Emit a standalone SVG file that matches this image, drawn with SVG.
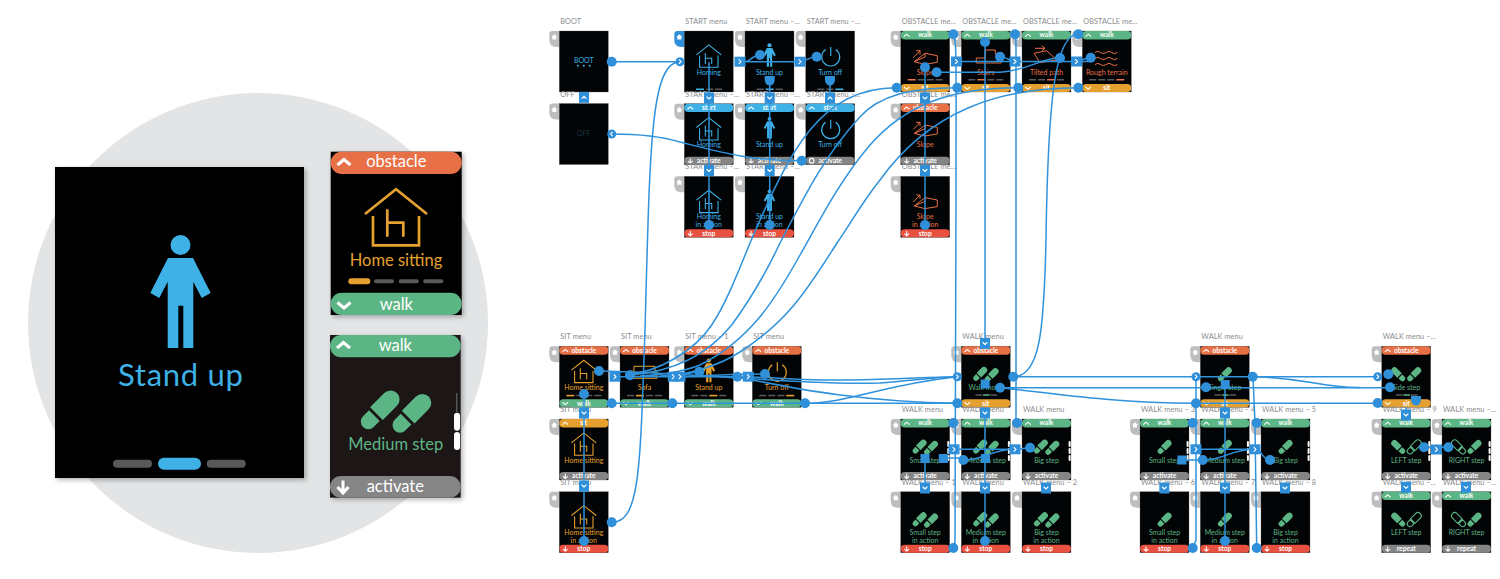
<svg xmlns="http://www.w3.org/2000/svg" width="1500" height="579" viewBox="0 0 1500 579">
<style>
text{font-family:"Lato","Noto Sans","Liberation Sans",sans-serif}
.cb{color:#3eb1e6}.co{color:#e5a02f}.cg{color:#5cb585}.cr{color:#e87046}
.s{fill:#030405;stroke:#55585a;stroke-width:.3}
.l{font-size:7.3px;fill:#8a8c8e;letter-spacing:.1px}
.m{font-size:7px;fill:currentColor;text-anchor:middle}
.bt{font-size:6.6px;font-weight:700;fill:#fff;text-anchor:middle}
.ic{fill:none;stroke:currentColor}
.pf{fill:currentColor}
.gp{fill:#58595b}
.ff{fill:currentColor}
.fo{fill:none;stroke:currentColor;stroke-width:3}
.w{fill:none;stroke:#fff;stroke-width:1.1;stroke-linecap:round;stroke-linejoin:round}
.B{fill:#fff;font-size:16.5px;text-anchor:middle}
#connectors path{fill:none;stroke:#2f92dc;stroke-width:1.5}
.k{fill:#2f8fd8}
</style>
<defs>
<filter id="sh" x="-10%" y="-10%" width="125%" height="125%"><feDropShadow dx="2" dy="2" stdDeviation="2.5" flood-color="#000" flood-opacity=".3"/></filter>
<g id="tab"><path d="M0 0H-7Q-10 0-10 3V9Q-10 16-3 16H0Z" fill="#bdbebf"/><path d="M-5 3.2L-8 6H-7V8.5H-3V6H-2Z" fill="#fff"/></g>
<g id="tabb"><path d="M0 0H-7Q-10 0-10 3V9Q-10 16-3 16H0Z" fill="#2f8fd8"/><path d="M-5 3.2L-8 6H-7V8.5H-3V6H-2Z" fill="#fff"/></g>
<path id="cu" class="w" d="M3.5 5.3L6 3.2L8.5 5.3"/>
<path id="cd" class="w" d="M3.5 3.2L6 5.3L8.5 3.2"/>
<path id="ad" class="w" d="M6 2V6.3M4 4.6L6 6.5L8 4.6"/>
<g id="tg"><rect width="49" height="8.4" rx="4" fill="#5cb585"/><use href="#cu"/></g>
<g id="to"><rect width="49" height="8.4" rx="4" fill="#e87046"/><use href="#cu"/></g>
<g id="ty"><rect width="49" height="8.4" rx="4" fill="#e5a02f"/><use href="#cu"/></g>
<g id="tc"><rect width="49" height="8.4" rx="4" fill="#3eb1e6"/><use href="#cu"/></g>
<g id="bg"><rect y="53" width="49" height="8" rx="4" fill="#5cb585"/><use href="#cd" y="53"/></g>
<g id="by"><rect y="53" width="49" height="8" rx="4" fill="#e5a02f"/><use href="#cd" y="53"/></g>
<g id="ba"><rect y="53" width="49" height="8" rx="4" fill="#858585"/><use href="#ad" y="53"/></g>
<g id="br"><rect y="53" width="49" height="8" rx="4" fill="#e8503f"/><use href="#ad" y="53"/></g>
<g id="bp"><rect y="53" width="49" height="8" rx="4" fill="#858585"/><circle cx="6" cy="57" r="2.3" class="w"/></g>
<g id="house" fill="none" stroke="currentColor" stroke-width="2.7"><path d="M-31-3L0-27.7L31-3M-23-1V28.3H23V-1M-8.7-7.7V19.7M-8.7 5.7H7.3V19.7"/></g>
<g id="person" fill="currentColor"><circle cy="-46.5" r="10"/><path d="M-12.5-33.5H12.5L30.2 1.5L21.2 6.5L12.8-9.8V56.5H2.8V14.2H-2.2V56.5H-12.8V-9.8L-21.2 6.5L-30.2 1.5Z"/></g>
<path id="pw" class="ic" stroke-width="1.2" d="M-5-7.5A9 9 0 1 0 5-7.5M0-10V-1"/>
<path id="foot" d="M-9-15A9 9 0 0 1 9-15V5H-9ZM-7.5 8H7.5V16.500A7.500 7.500 0 0 1-7.500 16.500Z"/>
<g id="feet" class="ff"><use href="#foot" transform="translate(-15.7 -1) rotate(45)"/><use href="#foot" transform="translate(16 2.5) rotate(45)"/></g>
<g id="foot1" class="ff"><use href="#foot" transform="rotate(45)"/></g>
<g id="fside" class="ff"><use href="#foot" transform="translate(-22 0) rotate(-45)"/><use href="#foot" transform="translate(22 0) rotate(45)"/></g>
<g id="fl"><use class="ff" href="#foot" transform="translate(-22 0) rotate(-45)"/><use class="fo" href="#foot" transform="translate(22 0) rotate(45)"/></g>
<g id="fr"><use class="fo" href="#foot" transform="translate(-22 0) rotate(-45)"/><use class="ff" href="#foot" transform="translate(22 0) rotate(45)"/></g>
<path id="slope" class="ic" d="M13.6 30.7L24.3 22.3L36.6 24.7V31.3L24.3 33.3ZM24.3 22.3V26L13.6 30.7M12.6 26.7L19.3 19.7M15.5 19.7H19.3V23.5"/>
<path id="stairs" class="ic" d="M15 32V27H24V19H34V23H40V32Z"/>
<path id="tilt" class="ic" d="M12 22.3L24.7 19.7L34.7 29L18 31.7ZM13 17.3H23M20 15L23 17.3L20 19.6"/>
<path id="wave" class="ic" d="M12.7 21.5q2.8-2.4 5.6 0t5.6 0t5.6 0t5.6 0M12.7 27.5q2.8-2.4 5.6 0t5.6 0t5.6 0t5.6 0M12.7 33.5q2.8-2.4 5.6 0t5.6 0t5.6 0t5.6 0"/>
<path id="sofa" class="ic" d="M14 20H35V30H14ZM12 24V32H37V24M14 26H35"/>
<g id="scr"><rect x="46.6" y="22" width="2" height="6" rx="1" fill="#fff"/><rect x="46.6" y="29" width="2" height="6" rx="1" fill="#fff"/><rect x="46.6" y="36" width="2" height="6" rx="1" fill="#fff"/></g>
<g id="p3"><rect x="14" y="48" width="7" height="1.5" rx=".7" class="gp"/><rect x="21.5" y="48" width="7" height="1.5" rx=".7" class="pf"/><rect x="29" y="48" width="7" height="1.5" rx=".7" class="gp"/></g>
<circle id="d" r="5" class="k"/>
<g id="sr"><rect x="-5.5" y="-5" width="11" height="10" class="k"/><path class="w" d="M-1-2L1 0L-1 2"/></g>
<g id="sl"><rect x="-5.5" y="-5" width="11" height="10" class="k"/><path class="w" d="M1-2L-1 0L1 2"/></g>
<g id="sd"><rect x="-5" y="-5.5" width="10" height="11" class="k"/><path class="w" d="M-2-1L0 1L2-1"/></g>
<g id="su"><rect x="-5" y="-5.5" width="10" height="11" class="k"/><path class="w" d="M-2 1L0-1L2 1"/></g>
<g id="ir"><circle r="4.500" class="k"/><path class="w" d="M-.7-1.8L1 0L-.7 1.8"/></g>
<g id="il"><circle r="4.500" class="k"/><path class="w" d="M.7-1.8L-1 0L.7 1.8"/></g>
<path id="sh1" class="k" d="M-5-4H5V0A5 5.500 0 0 1-5 0Z"/>
</defs>
<rect width="1500" height="579" fill="#fff"/>

<g id="detail">
<circle cx="258" cy="323" r="230" fill="#e2e4e5"/>
<g id="big-screen" class="cb">
<rect x="55" y="167" width="249" height="311" fill="#030405" filter="url(#sh)"/>
<use href="#person" transform="translate(180.5 291.5)"/>
<text x="180.5" y="386" font-size="31" fill="#3eb1e6" text-anchor="middle" textLength="125">Stand up</text>
<rect x="113" y="459.700" width="39" height="8" rx="4" fill="#58595b"/><rect x="158" y="457.700" width="43" height="12" rx="6" fill="#3eb1e6"/><rect x="206.700" y="459.700" width="39" height="8" rx="4" fill="#58595b"/>
</g>
<g id="card-home" class="co">
<rect x="330.700" y="151.700" width="131" height="163.300" fill="#030405" filter="url(#sh)"/>
<rect x="330.700" y="151.700" width="131" height="22.300" rx="11" fill="#e87046"/>
<path d="M337.500 165L344 159.500L350.500 165" fill="none" stroke="#fff" stroke-width="3"/>
<text class="B" x="396.300" y="167">obstacle</text>
<use href="#house" transform="translate(396 217)"/>
<text x="396" y="266" font-size="16.500" fill="#e5a02f" text-anchor="middle">Home sitting</text>
<rect x="348.300" y="278.300" width="22" height="6" rx="3" fill="#e5a02f"/><rect x="374" y="279.300" width="20" height="4" rx="2" fill="#58595b"/><rect x="398.700" y="279.300" width="20" height="4" rx="2" fill="#58595b"/><rect x="423.300" y="279.300" width="20" height="4" rx="2" fill="#58595b"/>
<rect x="330.700" y="292.700" width="131" height="22.300" rx="11" fill="#5cb585"/>
<path d="M337.500 302.500L344 308L350.500 302.500" fill="none" stroke="#fff" stroke-width="3"/>
<text class="B" x="396.300" y="310">walk</text>
</g>
<g id="card-step" class="cg">
<rect x="330" y="335" width="130.700" height="162.700" fill="#1a1718" filter="url(#sh)"/>
<rect x="330" y="335" width="130.700" height="22.300" rx="11" fill="#5cb585"/>
<path d="M337 348L343.500 342.500L350 348" fill="none" stroke="#fff" stroke-width="3"/>
<text class="B" x="395.300" y="351">walk</text>
<use href="#feet" transform="translate(395.700 411)"/>
<text x="395.700" y="450" font-size="16.500" fill="#5cb585" text-anchor="middle">Medium step</text>
<rect x="456" y="393" width="1.400" height="19" fill="#58595b"/><rect x="454" y="412.700" width="6" height="18" rx="3" fill="#fff"/><rect x="454" y="432" width="6" height="18" rx="3" fill="#fff"/>
<rect x="330" y="476" width="130.700" height="21.700" rx="10.800" fill="#858585"/>
<path d="M343 480.500V492M337.500 487L343 493L348.500 487" fill="none" stroke="#fff" stroke-width="3"/>
<text class="B" x="395.300" y="492">activate</text>
</g>
</g>

<g id="nodes">
<g id="boot" class="cb" transform="translate(559.300 31)"><use href="#tab"/><text class="l" x="1" y="-7">BOOT</text><rect class="s" width="49" height="61"/><text class="m" x="24.500" y="31.500">BOOT</text><circle cx="18.500" cy="34.700" r="1" class="pf"/><circle cx="24.500" cy="34.700" r="1" class="pf"/><circle cx="30.500" cy="34.700" r="1" class="pf"/></g>
<g id="off" class="cb" transform="translate(559.300 103.500)"><use href="#tab"/><text class="l" x="1" y="-7">OFF</text><rect class="s" width="49" height="61"/><text class="m" x="24.500" y="32" style="fill:#17364b">OFF</text></g>

<g id="start-1" class="cb" transform="translate(684.300 31)"><use href="#tabb"/><text class="l" x="1" y="-7">START menu</text><rect class="s" width="49" height="61"/><use href="#house" transform="translate(24.500 25) scale(.4)"/><text class="m" x="24.500" y="44">Homing</text><rect x="11.700" y="57.500" width="8" height="1.600" class="pf"/><rect x="22" y="57.500" width="7" height="1.600" class="gp"/><rect x="30.700" y="57.500" width="7" height="1.600" class="gp"/></g>
<g id="start-2" class="cb" transform="translate(745 31)"><use href="#tab"/><text class="l" x="1" y="-7">START menu –…</text><rect class="s" width="49" height="61"/><use href="#person" transform="translate(24.500 24) scale(.21)"/><text class="m" x="24.500" y="44">Stand up</text><rect x="11.700" y="57.500" width="7" height="1.600" class="gp"/><rect x="20.700" y="57.500" width="8" height="1.600" class="pf"/><rect x="30.700" y="57.500" width="7" height="1.600" class="gp"/></g>
<g id="start-3" class="cb" transform="translate(805.700 31)"><use href="#tab"/><text class="l" x="1" y="-7">START menu –…</text><rect class="s" width="49" height="61"/><use href="#pw" transform="translate(25 26)"/><text class="m" x="24.500" y="44">Turn off</text><rect x="11.700" y="57.500" width="7" height="1.600" class="gp"/><rect x="20.700" y="57.500" width="7" height="1.600" class="gp"/><rect x="29.700" y="57.500" width="8" height="1.600" class="pf"/></g>
<g id="start-4" class="cb" transform="translate(684.300 103.700)"><use href="#tab"/><text class="l" x="1" y="-7">START menu –…</text><rect class="s" width="49" height="61"/><use href="#tc"/><text class="bt" x="24.500" y="6.300">start</text><use href="#house" transform="translate(24.500 25) scale(.4)"/><text class="m" x="24.500" y="43.500">Homing</text><use href="#ba"/><text class="bt" x="24.500" y="59.400">activate</text></g>
<g id="start-5" class="cb" transform="translate(745 103.700)"><use href="#tab"/><text class="l" x="1" y="-7">START menu –…</text><rect class="s" width="49" height="61"/><use href="#tc"/><text class="bt" x="24.500" y="6.300">start</text><use href="#person" transform="translate(24.500 24) scale(.19)"/><text class="m" x="24.500" y="43.500">Stand up</text><use href="#ba"/><text class="bt" x="24.500" y="59.400">activate</text></g>
<g id="start-6" class="cb" transform="translate(805.700 103.700)"><use href="#tab"/><text class="l" x="1" y="-7">START menu –…</text><rect class="s" width="49" height="61"/><use href="#tc"/><text class="bt" x="24.500" y="6.300">start</text><use href="#pw" transform="translate(25 26)"/><text class="m" x="24.500" y="43.500">Turn off</text><use href="#bp"/><text class="bt" x="24.500" y="59.400">activate</text></g>
<g id="start-7" class="cb" transform="translate(684.300 176.300)"><use href="#tab"/><text class="l" x="1" y="-7">START menu –…</text><rect class="s" width="49" height="61"/><use href="#house" transform="translate(24.500 25) scale(.4)"/><text class="m" x="24.500" y="43">Homing</text><text class="m" x="24.500" y="51">in action</text><use href="#br"/><text class="bt" x="24.500" y="59.400">stop</text></g>
<g id="start-8" class="cb" transform="translate(745 176.300)"><use href="#tab"/><text class="l" x="1" y="-7">START menu –…</text><rect class="s" width="49" height="61"/><use href="#person" transform="translate(24.500 24) scale(.19)"/><text class="m" x="24.500" y="43">Stand up</text><text class="m" x="24.500" y="51">in action</text><use href="#br"/><text class="bt" x="24.500" y="59.400">stop</text></g>

<g id="obst-1" class="cr" transform="translate(900.700 31)"><use href="#tab"/><text class="l" x="1" y="-7">OBSTACLE me…</text><rect class="s" width="49" height="61"/><use href="#tg"/><text class="bt" x="24.500" y="6.300">walk</text><use href="#slope"/><text class="m" x="24.500" y="44">Slope</text><rect x="7" y="48" width="8" height="1.500" class="pf"/><rect x="17" y="48" width="7" height="1.500" class="gp"/><rect x="26" y="48" width="7" height="1.500" class="gp"/><rect x="35" y="48" width="7" height="1.500" class="gp"/><use href="#by"/><text class="bt" x="24.500" y="59.400">sit</text></g>
<g id="obst-2" class="cr" transform="translate(961.300 31)"><use href="#tab"/><text class="l" x="1" y="-7">OBSTACLE me…</text><rect class="s" width="49" height="61"/><use href="#tg"/><text class="bt" x="24.500" y="6.300">walk</text><use href="#stairs"/><text class="m" x="24.500" y="44">Stairs</text><rect x="7" y="48" width="7" height="1.500" class="gp"/><rect x="16" y="48" width="8" height="1.500" class="pf"/><rect x="26" y="48" width="7" height="1.500" class="gp"/><rect x="35" y="48" width="7" height="1.500" class="gp"/><use href="#by"/><text class="bt" x="24.500" y="59.400">sit</text></g>
<g id="obst-3" class="cr" transform="translate(1022 31)"><use href="#tab"/><text class="l" x="1" y="-7">OBSTACLE me…</text><rect class="s" width="49" height="61"/><use href="#tg"/><text class="bt" x="24.500" y="6.300">walk</text><use href="#tilt"/><text class="m" x="24.500" y="44">Tilted path</text><rect x="7" y="48" width="7" height="1.500" class="gp"/><rect x="16" y="48" width="7" height="1.500" class="gp"/><rect x="25" y="48" width="8" height="1.500" class="pf"/><rect x="35" y="48" width="7" height="1.500" class="gp"/><use href="#by"/><text class="bt" x="24.500" y="59.400">sit</text></g>
<g id="obst-4" class="cr" transform="translate(1082.300 31)"><use href="#tab"/><text class="l" x="1" y="-7">OBSTACLE me…</text><rect class="s" width="49" height="61"/><use href="#tg"/><text class="bt" x="24.500" y="6.300">walk</text><use href="#wave"/><text class="m" x="24.500" y="44">Rough terrain</text><rect x="7" y="48" width="7" height="1.500" class="gp"/><rect x="16" y="48" width="7" height="1.500" class="gp"/><rect x="25" y="48" width="7" height="1.500" class="gp"/><rect x="34" y="48" width="8" height="1.500" class="pf"/><use href="#by"/><text class="bt" x="24.500" y="59.400">sit</text></g>
<g id="obst-5" class="cr" transform="translate(900.700 103.700)"><use href="#tab"/><text class="l" x="1" y="-7">OBSTACLE me…</text><rect class="s" width="49" height="61"/><use href="#to"/><text class="bt" x="24.500" y="6.300">obstacle</text><use href="#slope" y="-1"/><text class="m" x="24.500" y="43.500">Slope</text><use href="#ba"/><text class="bt" x="24.500" y="59.400">activate</text></g>
<g id="obst-6" class="cr" transform="translate(900.700 176.300)"><use href="#tab"/><text class="l" x="1" y="-7">OBSTACLE me…</text><rect class="s" width="49" height="61"/><use href="#slope" y="-1"/><text class="m" x="24.500" y="43">Slope</text><text class="m" x="24.500" y="51">in action</text><use href="#br"/><text class="bt" x="24.500" y="59.400">stop</text></g>

<g id="sit-1" class="co" transform="translate(559.300 346.300)"><use href="#tab"/><text class="l" x="1" y="-7">SIT menu</text><rect class="s" width="49" height="61"/><use href="#to"/><text class="bt" x="24.500" y="6.300">obstacle</text><use href="#house" transform="translate(24.500 25) scale(.4)"/><text class="m" x="24.500" y="44">Home sitting</text><rect x="7" y="48.500" width="8" height="1.600" class="pf"/><rect x="17" y="48.500" width="7" height="1.500" class="gp"/><rect x="26" y="48.500" width="7" height="1.500" class="gp"/><rect x="35" y="48.500" width="7" height="1.500" class="gp"/><use href="#bg"/><text class="bt" x="24.500" y="59.400">walk</text></g>
<g id="sit-2" class="co" transform="translate(620 346.300)"><use href="#tab"/><text class="l" x="1" y="-7">SIT menu</text><rect class="s" width="49" height="61"/><use href="#to"/><text class="bt" x="24.500" y="6.300">obstacle</text><use href="#sofa"/><text class="m" x="24.500" y="44">Sofa</text><rect x="7" y="48.500" width="7" height="1.500" class="gp"/><rect x="16" y="48.500" width="8" height="1.600" class="pf"/><rect x="26" y="48.500" width="7" height="1.500" class="gp"/><rect x="35" y="48.500" width="7" height="1.500" class="gp"/><use href="#bg"/><text class="bt" x="24.500" y="59.400">walk</text></g>
<g id="sit-3" class="co" transform="translate(684.300 346.300)"><use href="#tab"/><text class="l" x="1" y="-7">SIT menu – 1</text><rect class="s" width="49" height="61"/><use href="#to"/><text class="bt" x="24.500" y="6.300">obstacle</text><use href="#person" transform="translate(24.500 24) scale(.21)"/><text class="m" x="24.500" y="44">Stand up</text><rect x="7" y="48.500" width="7" height="1.500" class="gp"/><rect x="16" y="48.500" width="7" height="1.500" class="gp"/><rect x="25" y="48.500" width="8" height="1.600" class="pf"/><rect x="35" y="48.500" width="7" height="1.500" class="gp"/><use href="#bg"/><text class="bt" x="24.500" y="59.400">walk</text></g>
<g id="sit-4" class="co" transform="translate(752.300 346.300)"><use href="#tab"/><text class="l" x="1" y="-7">SIT menu</text><rect class="s" width="49" height="61"/><use href="#to"/><text class="bt" x="24.500" y="6.300">obstacle</text><use href="#pw" transform="translate(25 26)"/><text class="m" x="24.500" y="44">Turn off</text><rect x="7" y="48.500" width="7" height="1.500" class="gp"/><rect x="16" y="48.500" width="7" height="1.500" class="gp"/><rect x="25" y="48.500" width="7" height="1.500" class="gp"/><rect x="34" y="48.500" width="8" height="1.600" class="pf"/><use href="#bg"/><text class="bt" x="24.500" y="59.400">walk</text></g>
<g id="sit-5" class="co" transform="translate(559.300 419)"><use href="#tab"/><text class="l" x="1" y="-7">SIT menu</text><rect class="s" width="49" height="61"/><use href="#ty"/><text class="bt" x="24.500" y="6.300">sit</text><use href="#house" transform="translate(24.500 25) scale(.4)"/><text class="m" x="24.500" y="43.500">Home sitting</text><use href="#ba"/><text class="bt" x="24.500" y="59.400">activate</text></g>
<g id="sit-6" class="co" transform="translate(559.300 491.700)"><use href="#tab"/><text class="l" x="1" y="-7">SIT menu</text><rect class="s" width="49" height="61"/><use href="#house" transform="translate(24.500 25) scale(.4)"/><text class="m" x="24.500" y="43">Home sitting</text><text class="m" x="24.500" y="51">in action</text><use href="#br"/><text class="bt" x="24.500" y="59.400">stop</text></g>

<g id="walk-a" class="cg" transform="translate(961.300 346.300)"><use href="#tab"/><text class="l" x="1" y="-7">WALK menu</text><rect class="s" width="49" height="61"/><use href="#to"/><text class="bt" x="24.500" y="6.300">obstacle</text><use href="#feet" transform="translate(24.500 28) scale(.36)"/><text class="m" x="24.500" y="44">Walk mode</text><use href="#p3"/><use href="#by"/><text class="bt" x="24.500" y="59.400">sit</text></g>
<g id="walk-a1" class="cg" transform="translate(900.700 419)"><use href="#tab"/><text class="l" x="1" y="-7">WALK menu</text><rect class="s" width="49" height="61"/><use href="#tg"/><text class="bt" x="24.500" y="6.300">walk</text><use href="#feet" transform="translate(24.500 28) scale(.36)"/><text class="m" x="24.500" y="43.500">Small step</text><use href="#scr"/><use href="#ba"/><text class="bt" x="24.500" y="59.400">activate</text></g>
<g id="walk-a2" class="cg" transform="translate(961.300 419)"><use href="#tab"/><text class="l" x="1" y="-7">WALK menu</text><rect class="s" width="49" height="61"/><use href="#tg"/><text class="bt" x="24.500" y="6.300">walk</text><use href="#feet" transform="translate(24.500 28) scale(.36)"/><text class="m" x="24.500" y="43.500">Medium step</text><use href="#scr"/><use href="#ba"/><text class="bt" x="24.500" y="59.400">activate</text></g>
<g id="walk-a3" class="cg" transform="translate(1022 419)"><use href="#tab"/><text class="l" x="1" y="-7">WALK menu</text><rect class="s" width="49" height="61"/><use href="#tg"/><text class="bt" x="24.500" y="6.300">walk</text><use href="#feet" transform="translate(24.500 28) scale(.36)"/><text class="m" x="24.500" y="43.500">Big step</text><use href="#scr"/><use href="#ba"/><text class="bt" x="24.500" y="59.400">activate</text></g>
<g id="walk-a4" class="cg" transform="translate(900.700 491.700)"><use href="#tab"/><text class="l" x="1" y="-7">WALK menu – 1</text><rect class="s" width="49" height="61"/><use href="#feet" transform="translate(24.500 28) scale(.36)"/><text class="m" x="24.500" y="43">Small step</text><text class="m" x="24.500" y="51">in action</text><use href="#br"/><text class="bt" x="24.500" y="59.400">stop</text></g>
<g id="walk-a5" class="cg" transform="translate(961.300 491.700)"><use href="#tab"/><text class="l" x="1" y="-7">WALK menu</text><rect class="s" width="49" height="61"/><use href="#feet" transform="translate(24.500 28) scale(.36)"/><text class="m" x="24.500" y="43">Medium step</text><text class="m" x="24.500" y="51">in action</text><use href="#br"/><text class="bt" x="24.500" y="59.400">stop</text></g>
<g id="walk-a6" class="cg" transform="translate(1022 491.700)"><use href="#tab"/><text class="l" x="1" y="-7">WALK menu – 2</text><rect class="s" width="49" height="61"/><use href="#feet" transform="translate(24.500 28) scale(.36)"/><text class="m" x="24.500" y="43">Big step</text><text class="m" x="24.500" y="51">in action</text><use href="#br"/><text class="bt" x="24.500" y="59.400">stop</text></g>

<g id="walk-b" class="cg" transform="translate(1200.300 346.300)"><use href="#tab"/><text class="l" x="1" y="-7">WALK menu</text><rect class="s" width="49" height="61"/><use href="#to"/><text class="bt" x="24.500" y="6.300">obstacle</text><use href="#foot1" transform="translate(24.500 28) scale(.36)"/><text class="m" x="24.500" y="44">Single step</text><use href="#p3"/><use href="#by"/><text class="bt" x="24.500" y="59.400">sit</text></g>
<g id="walk-b1" class="cg" transform="translate(1140 419)"><use href="#tab"/><text class="l" x="1" y="-7">WALK menu – 3</text><rect class="s" width="49" height="61"/><use href="#tg"/><text class="bt" x="24.500" y="6.300">walk</text><use href="#foot1" transform="translate(24.500 28) scale(.36)"/><text class="m" x="24.500" y="43.500">Small step</text><use href="#scr"/><use href="#ba"/><text class="bt" x="24.500" y="59.400">activate</text></g>
<g id="walk-b2" class="cg" transform="translate(1200.300 419)"><use href="#tab"/><text class="l" x="1" y="-7">WALK menu – 4</text><rect class="s" width="49" height="61"/><use href="#tg"/><text class="bt" x="24.500" y="6.300">walk</text><use href="#foot1" transform="translate(24.500 28) scale(.36)"/><text class="m" x="24.500" y="43.500">Medium step</text><use href="#scr"/><use href="#ba"/><text class="bt" x="24.500" y="59.400">activate</text></g>
<g id="walk-b3" class="cg" transform="translate(1261 419)"><use href="#tab"/><text class="l" x="1" y="-7">WALK menu – 5</text><rect class="s" width="49" height="61"/><use href="#tg"/><text class="bt" x="24.500" y="6.300">walk</text><use href="#foot1" transform="translate(24.500 28) scale(.36)"/><text class="m" x="24.500" y="43.500">Big step</text><use href="#scr"/><use href="#ba"/><text class="bt" x="24.500" y="59.400">activate</text></g>
<g id="walk-b4" class="cg" transform="translate(1140 491.700)"><use href="#tab"/><text class="l" x="1" y="-7">WALK menu – 6</text><rect class="s" width="49" height="61"/><use href="#foot1" transform="translate(24.500 28) scale(.36)"/><text class="m" x="24.500" y="43">Small step</text><text class="m" x="24.500" y="51">in action</text><use href="#br"/><text class="bt" x="24.500" y="59.400">stop</text></g>
<g id="walk-b5" class="cg" transform="translate(1200.300 491.700)"><use href="#tab"/><text class="l" x="1" y="-7">WALK menu – 7</text><rect class="s" width="49" height="61"/><use href="#foot1" transform="translate(24.500 28) scale(.36)"/><text class="m" x="24.500" y="43">Medium step</text><text class="m" x="24.500" y="51">in action</text><use href="#br"/><text class="bt" x="24.500" y="59.400">stop</text></g>
<g id="walk-b6" class="cg" transform="translate(1261 491.700)"><use href="#tab"/><text class="l" x="1" y="-7">WALK menu – 8</text><rect class="s" width="49" height="61"/><use href="#foot1" transform="translate(24.500 28) scale(.36)"/><text class="m" x="24.500" y="43">Big step</text><text class="m" x="24.500" y="51">in action</text><use href="#br"/><text class="bt" x="24.500" y="59.400">stop</text></g>

<g id="walk-c" class="cg" transform="translate(1381.700 346.300)"><use href="#tab"/><text class="l" x="1" y="-7">WALK menu –…</text><rect class="s" width="49" height="61"/><use href="#to"/><text class="bt" x="24.500" y="6.300">obstacle</text><use href="#fside" transform="translate(24.500 28) scale(.36)"/><text class="m" x="24.500" y="44">Side step</text><use href="#p3"/><use href="#by"/><text class="bt" x="24.500" y="59.400">sit</text></g>
<g id="walk-c1" class="cg" transform="translate(1381.700 419)"><use href="#tab"/><text class="l" x="1" y="-7">WALK menu – 9</text><rect class="s" width="49" height="61"/><use href="#tg"/><text class="bt" x="24.500" y="6.300">walk</text><use href="#fl" transform="translate(24.500 28) scale(.36)"/><text class="m" x="24.500" y="43.500">LEFT step</text><use href="#scr"/><use href="#ba"/><text class="bt" x="24.500" y="59.400">activate</text></g>
<g id="walk-c2" class="cg" transform="translate(1442 419)"><use href="#tab"/><text class="l" x="1" y="-7">WALK menu –…</text><rect class="s" width="49" height="61"/><use href="#tg"/><text class="bt" x="24.500" y="6.300">walk</text><use href="#fr" transform="translate(24.500 28) scale(.36)"/><text class="m" x="24.500" y="43.500">RIGHT step</text><use href="#scr"/><use href="#ba"/><text class="bt" x="24.500" y="59.400">activate</text></g>
<g id="walk-c3" class="cg" transform="translate(1381.700 491.700)"><use href="#tab"/><text class="l" x="1" y="-7">WALK menu –…</text><rect class="s" width="49" height="61"/><use href="#tg"/><text class="bt" x="24.500" y="6.300">walk</text><use href="#fl" transform="translate(24.500 28) scale(.36)"/><text class="m" x="24.500" y="43.500">LEFT step</text><use href="#ba"/><text class="bt" x="24.500" y="59.400">repeat</text></g>
<g id="walk-c4" class="cg" transform="translate(1442 491.700)"><use href="#tab"/><text class="l" x="1" y="-7">WALK menu –…</text><rect class="s" width="49" height="61"/><use href="#tg"/><text class="bt" x="24.500" y="6.300">walk</text><use href="#fr" transform="translate(24.500 28) scale(.36)"/><text class="m" x="24.500" y="43.500">RIGHT step</text><use href="#ba"/><text class="bt" x="24.500" y="59.400">repeat</text></g>
</g>

<g id="connectors">
<path d="M611.700 61.700H680"/>
<path d="M611.700 522.300C640 522 640 470 645 330C650 150 650 62 680 61.700"/>
<path d="M740 61.700H800M745 61.700C752 61 752 55 760 55M800 61.700C808 61 808 56.700 816.700 56.700"/>
<path d="M709 62V225M769.700 78V225M830 78V99"/>
<path d="M801.700 160.700C750 160.700 720 152 680 142C660 136 640 134 611.700 134"/>
<path d="M925 67V225M985 42V343M985 413V541M584 394V541M1225 385V541M925 458V488"/>
<path d="M953.300 34C957 40 956 60 956 200L955 540Q955 546 953 548"/>
<path d="M1015 34Q1016 36 1016 50V423"/>
<path d="M1078.300 34C1055 34 1048 100 1046 240C1044 330 1040 376 1014 376.700"/>
<path d="M936.700 72.300H1000C1030 70 1040 58 1060 58"/>
<path d="M956 61.500H1091M1000 56.700C1008 56.700 1008 61 1015 61.500M1076 61.500C1083 61 1083 57.700 1090.700 57.700"/>
<path d="M896.700 87.700C820 88 790 150 750 243C735 280 725 305 711.700 325C695 350 660 372 625 375"/>
<path d="M957.300 87.700C910 88 880 95 860 116.700C825 155 805 195 780 243C765 275 750 300 731.700 325C705 358 670 372 630 375"/>
<path d="M1018.300 87.700C950 88 905 105 870 145C840 180 820 220 800 255C775 300 750 340 700 365C680 373 660 375 640 376"/>
<path d="M1078.300 87.700C1000 88 930 110 880 180C860 205 850 225 837 243C810 285 790 320 740 352C720 365 690 375 660 376"/>
<path d="M599 371C700 373 800 385 880 383C910 381 935 377 957.300 376.700"/>
<path d="M615 376.700H740C780 377 800 381 850 380C900 379 930 377 957.300 376.700"/>
<path d="M737 377C780 385 850 402 957.300 403.300"/>
<path d="M805 403.300C850 403 880 385 957.300 376.700"/>
<path d="M611.700 403.300H957.300"/>
<path d="M765 374C720 374 700 376 680 376.700M699.300 371.700C690 372 685 376 673 376.700"/>
<path d="M1013.300 376.700H1377.700"/>
<path d="M1000 387.700H1390M1000 387.700C1050 393 1110 403 1196 403.300H1377.700"/>
<path d="M1252.700 376.700C1310 378 1320 388 1360 387.500"/>
<path d="M1196 376.700V423M1196 403V540L1192.700 548M1253 376.700L1255 423L1256.700 548"/>
<path d="M943.300 458H963.300M954 449.300H1015M963.300 460C985 460 990 449.300 1015 449.300C1022 449.300 1024 447.700 1030 447.700"/>
<path d="M1181.700 460H1202.700M1196 449.300H1255M1202.700 460C1225 460 1230 449.300 1255 449.300C1262 449.300 1262 460 1270 460"/>
<path d="M1406 407V416M1424 447.300H1448.300"/>

<use href="#d" x="611.700" y="61.700"/><use href="#ir" x="680" y="61.700"/>
<use href="#d" x="611.700" y="522.300"/>
<use href="#sr" x="740" y="61.700"/><use href="#sr" x="800" y="61.700"/>
<use href="#d" x="760" y="55"/><use href="#d" x="816.700" y="56.700"/>
<use href="#sh1" x="769.700" y="80"/><use href="#sh1" x="830" y="80"/>
<use href="#sd" x="709" y="98"/><use href="#sd" x="769.700" y="98"/><use href="#su" x="830" y="98"/>
<use href="#sd" x="709" y="170.500"/><use href="#sd" x="769.700" y="170.500"/>
<use href="#d" x="709" y="225"/><use href="#d" x="769.700" y="225"/>
<use href="#su" x="584" y="97.300"/><use href="#il" x="611.700" y="134"/><use href="#d" x="801.700" y="160.700"/>

<use href="#d" x="953.300" y="34.300"/><use href="#d" x="985" y="42"/><use href="#d" x="1015" y="34.300"/><use href="#d" x="1078.300" y="34.300"/>
<use href="#d" x="925" y="67.300"/><use href="#d" x="936.700" y="72.300"/><use href="#d" x="1000" y="56.700"/><use href="#d" x="1060" y="58"/><use href="#d" x="1090.700" y="57.700"/>
<use href="#sr" x="956.500" y="61.500"/><use href="#sr" x="1015" y="61.500"/><use href="#sr" x="1076.500" y="61.500"/>
<use href="#d" x="896.700" y="87.700"/><use href="#d" x="957.300" y="87.700"/><use href="#d" x="1018.300" y="87.700"/><use href="#d" x="1078.300" y="87.700"/>
<use href="#sd" x="925" y="98"/><use href="#sd" x="925" y="170.500"/><use href="#d" x="925" y="225"/>

<use href="#d" x="599" y="371"/><use href="#sr" x="615" y="376.700"/><use href="#d" x="630" y="375.300"/>
<use href="#sr" x="673.300" y="376.700"/><use href="#sr" x="680" y="376.700"/><use href="#d" x="699.300" y="371.700"/>
<use href="#d" x="737.300" y="376.700"/><use href="#sr" x="748.300" y="376.700"/><use href="#d" x="765" y="374"/>
<use href="#d" x="611.700" y="403.300"/><use href="#d" x="672.300" y="403.300"/><use href="#d" x="805" y="403.300"/>
<use href="#d" x="584" y="394"/><use href="#sd" x="584" y="413"/><use href="#sd" x="584" y="486"/><use href="#d" x="584" y="541"/>

<use href="#ir" x="957.300" y="376.700"/><use href="#d" x="957.300" y="403.300"/><use href="#d" x="1013.300" y="376.700"/>
<use href="#sd" x="985" y="343.500"/><rect x="980.700" y="379.500" width="9" height="9" class="k"/><use href="#d" x="1000" y="387.700"/><use href="#sd" x="985" y="413"/>
<use href="#d" x="953.300" y="423"/><use href="#d" x="1017" y="423"/><use href="#d" x="953.300" y="548"/>
<rect x="920.500" y="454" width="9" height="9" class="k"/><rect x="938.800" y="454" width="9" height="9" class="k"/><use href="#d" x="963.300" y="460"/><rect x="981" y="454" width="9" height="9" class="k"/>
<use href="#sr" x="954" y="449.300"/><use href="#sr" x="1015" y="449.300"/><use href="#d" x="1030" y="447.700"/>
<use href="#sd" x="925" y="488"/><use href="#sd" x="985" y="488"/><use href="#sd" x="1046" y="488"/><use href="#d" x="985" y="541"/>

<use href="#ir" x="1196" y="376.700"/><use href="#d" x="1196" y="403.300"/><use href="#d" x="1252.700" y="376.700"/>
<rect x="1220.700" y="380" width="9" height="9" class="k"/><use href="#d" x="1206" y="387.300"/><use href="#sd" x="1225" y="413"/>
<use href="#d" x="1192.700" y="423"/><use href="#d" x="1256.700" y="423"/><use href="#d" x="1192.700" y="548"/><use href="#d" x="1256.700" y="548"/>
<rect x="1177.500" y="455.500" width="9" height="9" class="k"/><use href="#d" x="1202.700" y="460"/><use href="#d" x="1270" y="460"/><use href="#sr" x="1196" y="449.300"/><use href="#sr" x="1255" y="449.300"/>
<use href="#sd" x="1164.300" y="488"/><use href="#sd" x="1225" y="488"/><use href="#sd" x="1285" y="488"/><use href="#d" x="1225" y="541"/>

<use href="#ir" x="1377.700" y="376.700"/><use href="#d" x="1377.700" y="403"/><use href="#d" x="1388.300" y="374.300"/><use href="#d" x="1390" y="387.300"/><use href="#sh1" x="1416" y="400"/><use href="#sd" x="1406" y="415"/>
<use href="#d" x="1424" y="447.300"/><use href="#d" x="1448.300" y="447.300"/><use href="#sr" x="1436.500" y="449.500"/>
<use href="#sd" x="1406" y="487.300"/><use href="#sd" x="1466" y="487.300"/>
</g>
</svg>
